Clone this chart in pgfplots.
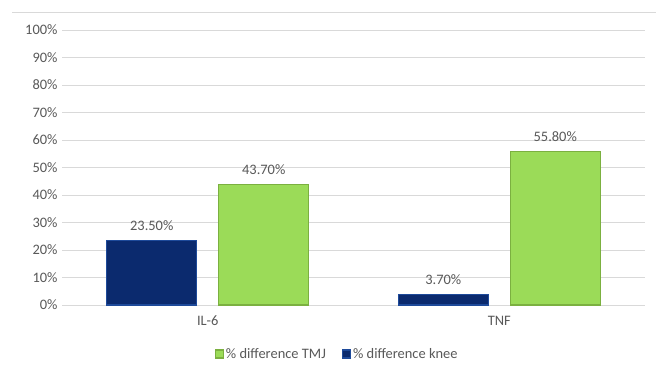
\documentclass[border=0pt]{standalone}
\usepackage{pgfplots}
\pgfplotsset{compat=1.18}
\usepackage{fontspec}
\setmainfont{Carlito}
\definecolor{kneeblue}{HTML}{0B2A6E}
\definecolor{kneeedge}{HTML}{1E4A9A}
\definecolor{tmjgreen}{HTML}{9BDB58}
\definecolor{tmjedge}{HTML}{7BB040}
\definecolor{gridgray}{HTML}{D9D9D9}
\definecolor{txtgray}{HTML}{595959}
\begin{document}
\begin{tikzpicture}[x=1bp,y=1bp]
\useasboundingbox (0,0) rectangle (656,370);
\fill[white] (0,0) rectangle (656,370);
% outer frame edge
\draw[gridgray, line width=1bp] (12,357) -- (656,357);
\begin{axis}[
  at={(62bp,65bp)}, anchor=south west,
  scale only axis,
  width=583bp, height=275bp,
  xmin=-0.5, xmax=1.5,
  ymin=0, ymax=100,
  axis line style={draw=none},
  ytick={0,10,...,100},
  yticklabel={\pgfmathprintnumber{\tick}\%},
  xtick={0,1},
  xticklabels={IL-6,TNF},
  ymajorgrids,
  grid style={gridgray, line width=0.9bp},
  tick style={draw=none},
  /pgf/number format/assume math mode=true,
  tick label style={font=\fontsize{14.5}{16}\selectfont, text=txtgray},
  yticklabel style={xshift=-1bp},
  xticklabel style={yshift=-3bp},
  ybar,
  bar width=90bp,
  nodes near coords={\pgfmathprintnumber[fixed,fixed zerofill,precision=2]{\pgfplotspointmeta}\%},
  nodes near coords style={font=\fontsize{14.5}{16}\selectfont, text=txtgray, yshift=6bp},
  legend columns=2,
  legend style={at={(0.472,-0.178)}, anchor=center, draw=none, fill=none,
    font=\fontsize{14.5}{16}\selectfont, text=txtgray,
    /tikz/every even column/.append style={column sep=14bp}},
  legend image code/.code={\fill[#1] (0bp,-4bp) rectangle (8bp,4bp);},
]
\addplot[fill=tmjgreen, draw=tmjedge, line width=1.2bp, bar shift=56bp]
  coordinates {(0,43.7) (1,55.8)};
\addlegendentry{\% difference TMJ}
\addplot[fill=kneeblue, draw=kneeedge, line width=1.2bp, bar shift=-56bp]
  coordinates {(0,23.5) (1,3.7)};
\addlegendentry{\% difference knee}
\end{axis}
\end{tikzpicture}
\end{document}
